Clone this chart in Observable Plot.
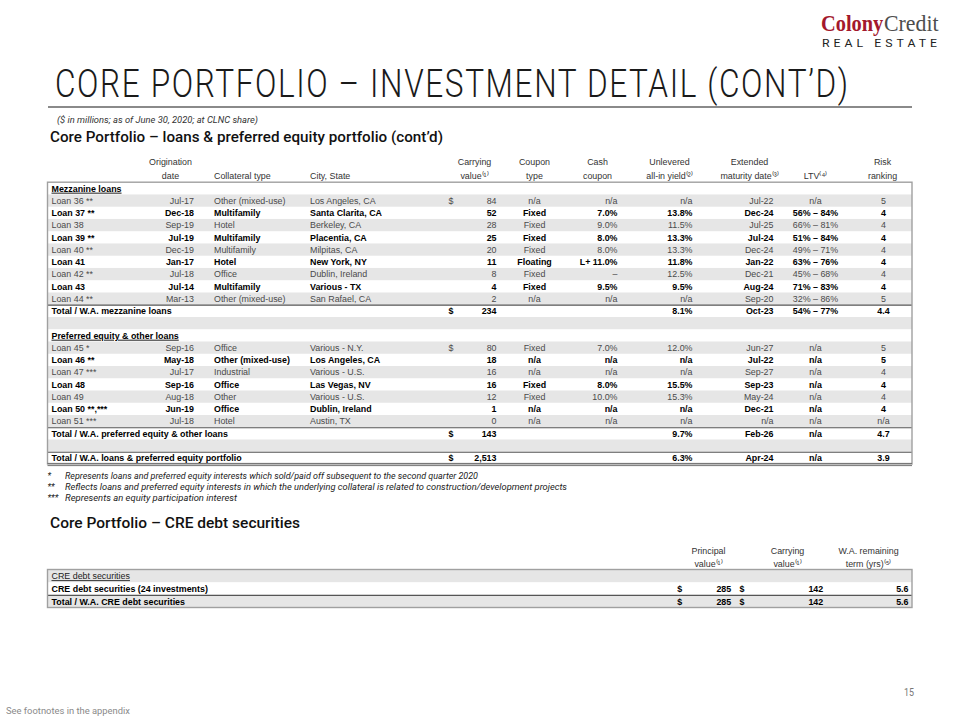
<!DOCTYPE html>
<html><head><meta charset="utf-8">
<script src="https://cdn.jsdelivr.net/npm/d3@7"></script>
<script src="https://cdn.jsdelivr.net/npm/@observablehq/plot@0.6"></script>
<style>
html,body{margin:0;padding:0;background:#fff;}
#page{position:relative;width:960px;height:720px;overflow:hidden;background:#fff;}
#page svg{position:absolute;left:0;}
</style></head>
<body><div id="page"></div>
<script>
// ---------------- DATA ----------------
const sectionNames = ["Mezzanine loans", "Preferred equity & other loans"];

const mezzNames   = ["Loan 36 **","Loan 37 **","Loan 38","Loan 39 **","Loan 40 **","Loan 41","Loan 42 **","Loan 43","Loan 44 **"];
const mezzOrig    = ["Jul-17","Dec-18","Sep-19","Jul-19","Dec-19","Jan-17","Jul-18","Jul-14","Mar-13"];
const mezzColl    = ["Other (mixed-use)","Multifamily","Hotel","Multifamily","Multifamily","Hotel","Office","Multifamily","Other (mixed-use)"];
const mezzCity    = ["Los Angeles, CA","Santa Clarita, CA","Berkeley, CA","Placentia, CA","Milpitas, CA","New York, NY","Dublin, Ireland","Various - TX","San Rafael, CA"];
const mezzCarry   = [84,52,28,25,20,11,8,4,2];
const mezzCtype   = ["n/a","Fixed","Fixed","Fixed","Fixed","Floating","Fixed","Fixed","n/a"];
const mezzCash    = ["n/a","7.0%","9.0%","8.0%","8.0%","L+ 11.0%","–","9.5%","n/a"];
const mezzYield   = ["n/a","13.8%","11.5%","13.3%","13.3%","11.8%","12.5%","9.5%","n/a"];
const mezzMat     = ["Jul-22","Dec-24","Jul-25","Jul-24","Dec-24","Jan-22","Dec-21","Aug-24","Sep-20"];
const mezzLtv     = ["n/a","56% – 84%","66% – 81%","51% – 84%","49% – 71%","63% – 76%","45% – 68%","71% – 83%","32% – 86%"];
const mezzRisk    = ["5","4","4","4","4","4","4","4","5"];

const prefNames   = ["Loan 45 *","Loan 46 **","Loan 47 ***","Loan 48","Loan 49","Loan 50 **,***","Loan 51 ***"];
const prefOrig    = ["Sep-16","May-18","Jul-17","Sep-16","Aug-18","Jun-19","Jul-18"];
const prefColl    = ["Office","Other (mixed-use)","Industrial","Office","Other","Office","Hotel"];
const prefCity    = ["Various - N.Y.","Los Angeles, CA","Various - U.S.","Las Vegas, NV","Various - U.S.","Dublin, Ireland","Austin, TX"];
const prefCarry   = [80,18,16,16,12,1,0];
const prefCtype   = ["Fixed","n/a","n/a","Fixed","Fixed","n/a","n/a"];
const prefCash    = ["7.0%","n/a","n/a","8.0%","10.0%","n/a","n/a"];
const prefYield   = ["12.0%","n/a","n/a","15.5%","15.3%","n/a","n/a"];
const prefMat     = ["Jun-27","Jul-22","Sep-27","Sep-23","May-24","Dec-21","n/a"];
const prefLtv     = ["n/a","n/a","n/a","n/a","n/a","n/a","n/a"];
const prefRisk    = ["5","5","4","4","4","4","n/a"];

const totalLabels = ["Total / W.A. mezzanine loans","Total / W.A. preferred equity & other loans","Total / W.A. loans & preferred equity portfolio"];
const totalCarry  = [234,143,2513];
const totalYield  = ["8.1%","9.7%","6.3%"];
const totalMat    = ["Oct-23","Feb-26","Apr-24"];
const totalLtv    = ["54% – 77%","n/a","n/a"];
const totalRisk   = ["4.4","4.7","3.9"];

const mainHeadTop    = ["Origination","","","Carrying","Coupon","Cash","Unlevered","Extended","","Risk"];
const mainHeadBottom = ["date","Collateral type","City, State","value⁽¹⁾","type","coupon","all-in yield⁽²⁾","maturity date⁽³⁾","LTV⁽⁴⁾","ranking"];

const creLabels    = ["CRE debt securities","CRE debt securities (24 investments)","Total / W.A. CRE debt securities"];
const crePrincipal = [null,285,285];
const creCarrying  = [null,142,142];
const creTerm      = [null,5.6,5.6];
const creHeadTop    = ["Principal","Carrying","W.A. remaining"];
const creHeadBottom = ["value⁽¹⁾","value⁽¹⁾","term (yrs)⁽⁵⁾"];

const footMarks = ["*","**","***"];
const footTexts = [
  "Represents loans and preferred equity interests which sold/paid off subsequent to the second quarter 2020",
  "Reflects loans and preferred equity interests in which the underlying collateral is related to construction/development projects",
  "Represents an equity participation interest"
];

// ---------------- LAYOUT ----------------
const page = document.getElementById("page");
const TFONT = {family:"'Liberation Sans', Arial, sans-serif", size:8.9};
const mainCols = [
  {key:"name",   x:51,    anchor:"start"},
  {key:"orig",   x:193.5, anchor:"end"},
  {key:"coll",   x:213.5, anchor:"start"},
  {key:"city",   x:309.5, anchor:"start"},
  {key:"dollar", x:448,   anchor:"start"},
  {key:"carry",  x:496,   anchor:"end"},
  {key:"ctype",  x:534,   anchor:"middle"},
  {key:"cash",   x:617,   anchor:"end"},
  {key:"yld",    x:692,   anchor:"end"},
  {key:"mat",    x:773,   anchor:"end"},
  {key:"ltv",    x:815,   anchor:"middle"},
  {key:"risk",   x:883,   anchor:"middle"}
];
const mainHeadCols = [
  {x:170, anchor:"middle"}, {x:213.5, anchor:"start"}, {x:309.5, anchor:"start"},
  {x:474, anchor:"middle"}, {x:534, anchor:"middle"}, {x:597, anchor:"middle"},
  {x:669, anchor:"middle"}, {x:749, anchor:"middle"}, {x:815, anchor:"middle"}, {x:882, anchor:"middle"}
];
const creCols = [
  {key:"name", x:51, anchor:"start"},
  {key:"d1", x:676.7, anchor:"start"},
  {key:"principal", x:730.7, anchor:"end"},
  {key:"d2", x:739, anchor:"start"},
  {key:"carrying", x:822.7, anchor:"end"},
  {key:"term", x:908, anchor:"end"}
];
const creHeadCols = [{x:708, anchor:"middle"}, {x:787, anchor:"middle"}, {x:868, anchor:"middle"}];

function label(text, o) {
  const d = document.createElement("div");
  d.textContent = text;
  const s = d.style;
  s.position = "absolute"; s.left = o.x + "px"; s.top = (o.cy - o.size / 2) + "px";
  s.fontSize = o.size + "px"; s.lineHeight = o.size + "px";
  s.fontFamily = o.family || "Roboto, sans-serif";
  s.fontWeight = o.weight || 400; s.fontStyle = o.italic ? "italic" : "normal";
  s.color = o.color || "#000"; s.whiteSpace = "nowrap";
  s.letterSpacing = (o.ls || 0) + "px"; s.transformOrigin = "0 0";
  page.appendChild(d);
  if (o.width) {
    const w = d.getBoundingClientRect().width - (o.ls || 0);
    if (w > 0) s.transform = `scaleX(${o.width / w})`;
  }
  return d;
}

// headings
label("Colony", {x:820.7, cy:24.3, size:22.5, family:"'Liberation Serif', serif", weight:700, color:"#a3182c", width:62.3});
label("Credit", {x:883.5, cy:24.3, size:22.5, family:"'Liberation Serif', serif", weight:400, color:"#4d4d4d", width:54.5});
label("REAL ESTATE", {x:821.7, cy:44.5, size:10.7, weight:400, ls:3.5, color:"#222", width:115});
label("CORE PORTFOLIO – INVESTMENT DETAIL (CONT’D)", {x:55, cy:84, size:39.4, weight:300, ls:2, color:"#1a1a1a", width:793});
const rule = document.createElement("div");
Object.assign(rule.style, {position:"absolute", left:"48px", top:"106px", width:"864px", height:"1.6px", background:"#8a8a8a"});
page.appendChild(rule);
label("($ in millions; as of June 30, 2020; at CLNC share)", {x:57, cy:120, size:9, italic:true, color:"#333", width:201});
label("Core Portfolio – loans & preferred equity portfolio (cont’d)", {x:50, cy:137.5, size:15.5, weight:500, color:"#111", width:393});
const footY = [476.5, 487.7, 498.5], footW = [413, 502, 172];
footTexts.forEach((t, i) => {
  label(footMarks[i], {x:47.5, cy:footY[i], size:8.6, italic:true, color:"#222"});
  label(t, {x:65, cy:footY[i], size:8.6, italic:true, color:"#222", width:footW[i]});
});
label("Core Portfolio – CRE debt securities", {x:50, cy:524, size:15.5, weight:500, color:"#111", width:250});
label("See footnotes in the appendix", {x:6, cy:711, size:8.5, color:"#8a8a8a", width:124});
label("15", {x:904, cy:692, size:11, color:"#777", width:10});

// ---------------- TABLE HELPERS ----------------
function textMarks(cells) {
  return d3.groups(cells, d => `${d.anchor}|${d.bold}|${d.fill}`).map(([, g]) =>
    Plot.text(g, {x:"x", y:"y", text:"text", textAnchor:g[0].anchor,
      fontWeight:g[0].bold ? "bold" : "normal", fill:g[0].fill,
      fontFamily:TFONT.family, fontSize:TFONT.size}));
}
function underline(svg, names) {
  const set = new Set(names);
  d3.select(svg).selectAll("text").filter(function () { return set.has(this.textContent); })
    .style("text-decoration", "underline");
}

// ---------------- MAIN TABLE ----------------
const fmt = d3.format(",");
const mainRows = [];
const addRow = o => { o.r = mainRows.length; mainRows.push(o); };
const totalRow = i => ({kind:"total", name:totalLabels[i], dollar:"$", carry:fmt(totalCarry[i]),
  yld:totalYield[i], mat:totalMat[i], ltv:totalLtv[i], risk:totalRisk[i]});
addRow({kind:"section", name:sectionNames[0]});
mezzNames.forEach((n, i) => addRow({kind:i % 2 ? "bold" : "plain", name:n, orig:mezzOrig[i], coll:mezzColl[i],
  city:mezzCity[i], dollar:i === 0 ? "$" : "", carry:fmt(mezzCarry[i]), ctype:mezzCtype[i], cash:mezzCash[i],
  yld:mezzYield[i], mat:mezzMat[i], ltv:mezzLtv[i], risk:mezzRisk[i]}));
addRow(totalRow(0));
addRow({kind:"blank"});
addRow({kind:"section", name:sectionNames[1]});
prefNames.forEach((n, i) => addRow({kind:i % 2 ? "bold" : "plain", name:n, orig:prefOrig[i], coll:prefColl[i],
  city:prefCity[i], dollar:i === 0 ? "$" : "", carry:fmt(prefCarry[i]), ctype:prefCtype[i], cash:prefCash[i],
  yld:prefYield[i], mat:prefMat[i], ltv:prefLtv[i], risk:prefRisk[i]}));
addRow(totalRow(1));
addRow({kind:"blank"});
addRow(totalRow(2));

const isGray = d => d.kind === "plain" || d.kind === "blank";
const isBold = d => d.kind !== "plain";
const M = {left:47.5, right:912, top:182.2, bottom:464, svgTop:140, svgHeight:345};
const nMain = mainRows.length;
const mainCells = [];
for (const row of mainRows) for (const c of mainCols) {
  const t = row[c.key];
  if (t) mainCells.push({x:c.x, y:row.r + 0.5, text:t, anchor:c.anchor, bold:isBold(row), fill:isBold(row) ? "#000" : "#4a4a4a"});
}
mainHeadCols.forEach((c, i) => {
  if (mainHeadTop[i]) mainCells.push({x:c.x, y:-1.65, text:mainHeadTop[i], anchor:c.anchor, bold:false, fill:"#333"});
  if (mainHeadBottom[i]) mainCells.push({x:c.x, y:-0.5, text:mainHeadBottom[i], anchor:c.anchor, bold:false, fill:"#333"});
});

const mainSvg = Plot.plot({
  width:960, height:M.svgHeight, margin:0,
  style:{background:"transparent", overflow:"visible"},
  x:{domain:[0, 960], range:[0, 960], axis:null},
  y:{domain:[0, nMain], range:[M.top - M.svgTop, M.bottom - M.svgTop], axis:null},
  marks:[
    Plot.rect(mainRows.filter(isGray), {x1:M.left, x2:M.right, y1:"r", y2:d => d.r + 1, fill:"#e6e6e6"}),
    Plot.ruleY(mainRows.filter(d => d.kind === "total"), {y:"r", x1:M.left, x2:M.right, stroke:"#555", strokeWidth:1.2}),
    Plot.rect([0], {x1:M.left, x2:M.right, y1:0, y2:nMain, fill:"none", stroke:"#a0a0a0", strokeWidth:1.4}),
    Plot.ruleY([nMain], {x1:M.left, x2:M.right, stroke:"#666", strokeWidth:0.9, dy:-1.1}),
    Plot.ruleY([nMain], {x1:M.left, x2:M.right, stroke:"#666", strokeWidth:0.9, dy:1.1}),
    ...textMarks(mainCells)
  ]
});
mainSvg.style.top = M.svgTop + "px";
page.appendChild(mainSvg);
underline(mainSvg, sectionNames);

// ---------------- CRE TABLE ----------------
const creRows = creLabels.map((name, i) => ({r:i, kind:i === 0 ? "section" : (i === 1 ? "bold" : "total"), name,
  d1:crePrincipal[i] != null ? "$" : "", principal:crePrincipal[i] != null ? fmt(crePrincipal[i]) : "",
  d2:creCarrying[i] != null ? "$" : "", carrying:creCarrying[i] != null ? fmt(creCarrying[i]) : "",
  term:creTerm[i] != null ? d3.format(".1f")(creTerm[i]) : ""}));
const C = {left:47.5, right:912, top:569.5, bottom:607.5, svgTop:535, svgHeight:80};
const nCre = creRows.length;
const creCells = [];
for (const row of creRows) for (const c of creCols) {
  const t = row[c.key];
  if (t) creCells.push({x:c.x, y:row.r + 0.5, text:t, anchor:c.anchor, bold:row.kind !== "section", fill:row.kind !== "section" ? "#000" : "#222"});
}
creHeadCols.forEach((c, i) => {
  creCells.push({x:c.x, y:-1.5, text:creHeadTop[i], anchor:c.anchor, bold:false, fill:"#333"});
  creCells.push({x:c.x, y:-0.5, text:creHeadBottom[i], anchor:c.anchor, bold:false, fill:"#333"});
});
const creSvg = Plot.plot({
  width:960, height:C.svgHeight, margin:0,
  style:{background:"transparent", overflow:"visible"},
  x:{domain:[0, 960], range:[0, 960], axis:null},
  y:{domain:[0, nCre], range:[C.top - C.svgTop, C.bottom - C.svgTop], axis:null},
  marks:[
    Plot.rect(creRows.filter(d => d.r % 2 === 0), {x1:C.left, x2:C.right, y1:"r", y2:d => d.r + 1, fill:"#e6e6e6"}),
    Plot.ruleY(creRows.filter(d => d.kind === "total"), {y:"r", x1:C.left, x2:C.right, stroke:"#555", strokeWidth:1.1}),
    Plot.rect([0], {x1:C.left, x2:C.right, y1:0, y2:nCre, fill:"none", stroke:"#a0a0a0", strokeWidth:1.4}),
    ...textMarks(creCells)
  ]
});
creSvg.style.top = C.svgTop + "px";
page.appendChild(creSvg);
underline(creSvg, [creLabels[0]]);
</script>
</body></html>
